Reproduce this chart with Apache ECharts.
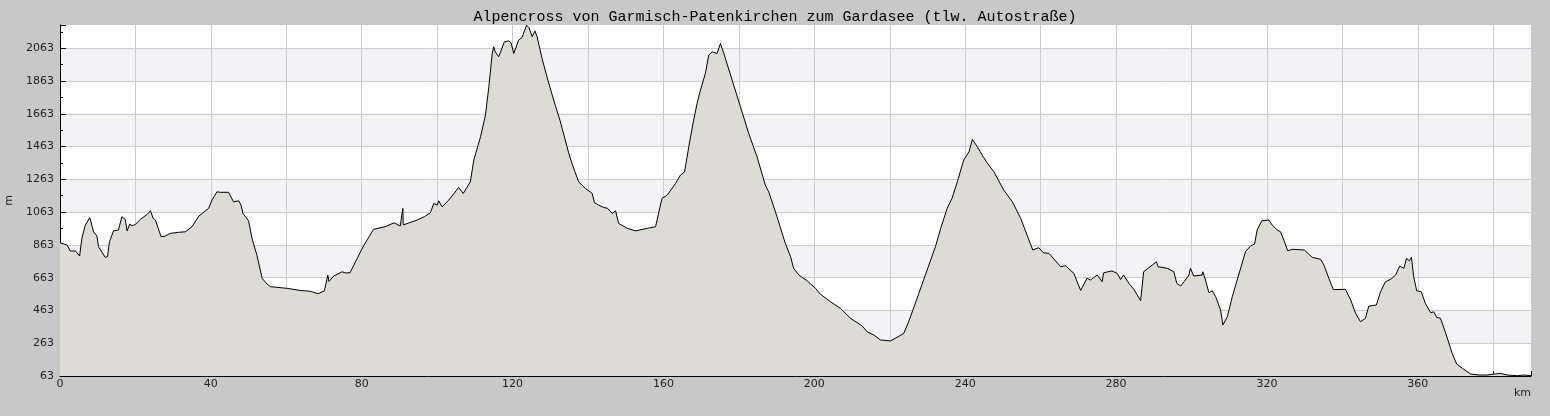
<!DOCTYPE html>
<html>
<head>
<meta charset="utf-8">
<script src="https://cdn.jsdelivr.net/npm/echarts@6/dist/echarts.min.js"></script>
<style>
html,body{margin:0;padding:0;background:#c8c8c8;}
#chart{width:1550px;height:416px;}
</style>
</head>
<body>
<div id="chart"></div>
<script>
// Distance along the route (km)
var distanceKm = [
0,1.9,2.7,4.1,5.2,5.8,6.7,7.9,8.2,8.9,9.8,10.2,10.7,12.0,12.6,13.1,13.6,14.2,14.7,15.5,
16.4,17.3,17.8,18.5,19.1,20.0,21.3,23.1,24.0,24.7,25.3,26.8,27.9,29.2,31.4,33.2,35.0,36.8,37.7,39.4,
40.3,41.6,42.5,44.7,45.2,46.0,47.4,48.0,48.5,50.0,50.9,52.2,53.6,54.9,55.8,60.2,63.7,66.4,68.4,70.1,
71.0,71.3,71.7,72.6,74.8,75.7,76.9,80.3,83.1,86.2,88.6,90.2,90.6,90.9,91.0,91.3,94.7,96.6,98.2,99.1,
100.0,100.4,101.3,103.1,105.7,106.9,108.8,109.7,111.5,112.8,113.7,114.6,115.0,115.4,116.3,117.8,119.0,119.6,120.3,121.6,
122.5,123.7,124.3,125.2,125.9,126.5,127.8,129.1,130.5,131.3,132.6,134.9,135.8,137.5,139.3,141.1,141.7,142.8,144.1,145.2,
146.4,147.3,148.1,150.4,152.6,155.7,157.9,159.6,161.0,163.2,164.5,165.6,166.7,168.0,168.9,169.8,171.1,172.0,172.9,174.2,
175.1,176.0,178.2,180.4,182.6,184.8,187.0,187.9,190.1,192.3,193.7,194.5,195.9,198.1,200.3,201.6,204.3,206.9,209.6,212.7,
214.0,215.8,217.5,220.2,221.9,223.7,225.0,227.7,229.9,232.1,233.5,235.2,236.5,237.9,239.6,241.0,241.9,243.2,244.5,245.8,
247.6,250.2,252.5,254.7,256.4,257.9,259.5,260.7,262.2,265.3,266.6,268.8,270.6,272.3,273.2,275.0,276.3,276.7,278.9,280.3,
281.2,282.0,283.4,284.7,286.5,287.3,290.7,291.1,293.6,294.0,295.3,296.1,297.1,298.0,299.3,299.7,300.6,302.8,303.0,303.7,
304.6,305.5,306.4,307.7,308.3,309.5,310.8,312.1,314.3,315.7,316.7,317.4,318.6,320.5,321.4,322.7,323.6,324.5,325.5,326.7,
329.9,332.0,334.2,335.1,336.4,337.6,340.8,342.2,343.5,344.8,346.1,347.0,349.0,350.1,351.4,352.8,354.1,355.2,356.3,357.0,
357.7,358.3,358.9,359.7,360.9,362.0,363.4,364.2,365.0,366.0,367.4,369.1,370.3,371.8,374.0,376.2,378.4,380.2,382.0,383.7,
386.4,388.2,390.0
];
// Elevation (m)
var elevationM = [
876,862,826,826,795,903,984,1029,1004,943,917,852,846,787,791,882,882,949,943,954,
1035,1019,949,990,980,988,1019,1049,1071,1025,1015,913,917,933,940,943,974,1039,1055,1086,
1137,1187,1184,1184,1187,1126,1132,1106,1055,1010,903,801,659,624,608,598,585,580,565,583,
679,640,650,673,699,692,693,850,958,974,998,978,985,1086,985,974,1015,1035,1059,1116,
1106,1132,1096,1137,1214,1177,1248,1381,1523,1655,1828,2031,2072,2041,2011,2102,2108,2096,2031,2113,
2129,2204,2190,2133,2169,2133,2001,1889,1777,1716,1620,1421,1356,1248,1208,1177,1120,1106,1092,1086,
1055,1071,994,964,949,964,974,1147,1167,1238,1289,1309,1462,1625,1726,1808,1909,2021,2041,2031,
2092,2031,1869,1706,1543,1401,1228,1187,1035,872,791,720,679,644,598,562,516,476,415,368,
333,313,283,277,299,323,394,567,710,852,964,1086,1147,1248,1381,1431,1507,1462,1411,1364,
1309,1198,1126,1025,923,832,846,815,811,730,736,689,585,659,649,679,638,693,704,689,
652,679,628,592,522,699,760,730,720,730,699,628,612,638,679,720,673,679,699,649,
571,583,547,466,374,425,547,649,821,858,868,954,1010,1015,984,954,943,892,827,836,
832,787,775,740,659,590,592,527,445,394,415,490,496,577,638,653,679,734,720,781,
766,787,669,583,577,506,449,455,421,415,323,201,136,110,75,69,69,75,79,69,
65,69,65
];
var titleText = 'Alpencross von Garmisch-Patenkirchen zum Gardasee (tlw. Autostraße)';
var yMin = 63, yMax = 2205, yStep = 200;
var xMin = 0, xMax = 390, xStep = 20, xLabelStep = 40;

var points = distanceKm.map(function (d, i) { return [d, elevationM[i]]; });

var chart = echarts.init(document.getElementById('chart'), null, {renderer: 'canvas'});
var labelFont = {fontFamily: 'DejaVu Sans', fontSize: 11, color: '#222'};
chart.setOption({
  backgroundColor: '#c8c8c8',
  animation: false,
  title: {
    text: titleText,
    left: 'center',
    top: 5,
    textStyle: {fontFamily: 'Liberation Mono', fontSize: 15, fontWeight: 'normal', color: '#000'}
  },
  grid: {left: 60, right: 19, top: 25, bottom: 40, show: false, outerBoundsMode: 'none', containLabel: false},
  xAxis: {
    type: 'value',
    min: xMin, max: xMax, interval: xStep,
    name: 'km',
    nameLocation: 'end',
    nameGap: 0,
    nameTextStyle: {fontFamily: 'DejaVu Sans', fontSize: 11, color: '#222', align: 'right', verticalAlign: 'top', padding: [12, 0, 0, 0]},
    axisLine: {show: true, lineStyle: {color: '#000', width: 1}},
    axisTick: {show: true, inside: true, length: 5, lineStyle: {color: '#000'}},
    minorTick: {show: true, splitNumber: 2, length: 3, lineStyle: {color: '#000'}},
    axisLabel: Object.assign({margin: 3, showMaxLabel: false, formatter: function (v) { return (v % xLabelStep === 0) ? String(v) : ''; }}, labelFont),
    splitLine: {show: true, lineStyle: {color: '#cccccc', width: 1}}
  },
  yAxis: {
    type: 'value',
    min: yMin, max: yMax, interval: yStep,
    name: 'm',
    nameLocation: 'middle',
    nameGap: 44,
    nameRotate: 90,
    nameTextStyle: {fontFamily: 'DejaVu Sans', fontSize: 11, color: '#222'},
    axisLine: {show: true, lineStyle: {color: '#000', width: 1}},
    axisTick: {show: true, inside: true, length: 6, lineStyle: {color: '#000'}},
    minorTick: {show: true, splitNumber: 2, length: 3, lineStyle: {color: '#000'}},
    axisLabel: Object.assign({margin: 6, showMaxLabel: false, formatter: function (v) { return ((v - yMin) % yStep === 0) ? String(v) : ''; }}, labelFont),
    splitLine: {show: true, showMaxLine: false, lineStyle: {color: '#cccccc', width: 1}},
    splitArea: {show: true, areaStyle: {color: ['#ffffff', '#f3f2f5']}}
  },
  series: [{
    type: 'line',
    data: points,
    showSymbol: false,
    symbol: 'none',
    lineStyle: {color: '#000', width: 1},
    areaStyle: {color: '#dcdbd6', opacity: 1, origin: 'start'},
    silent: true
  }]
});
</script>
</body>
</html>
